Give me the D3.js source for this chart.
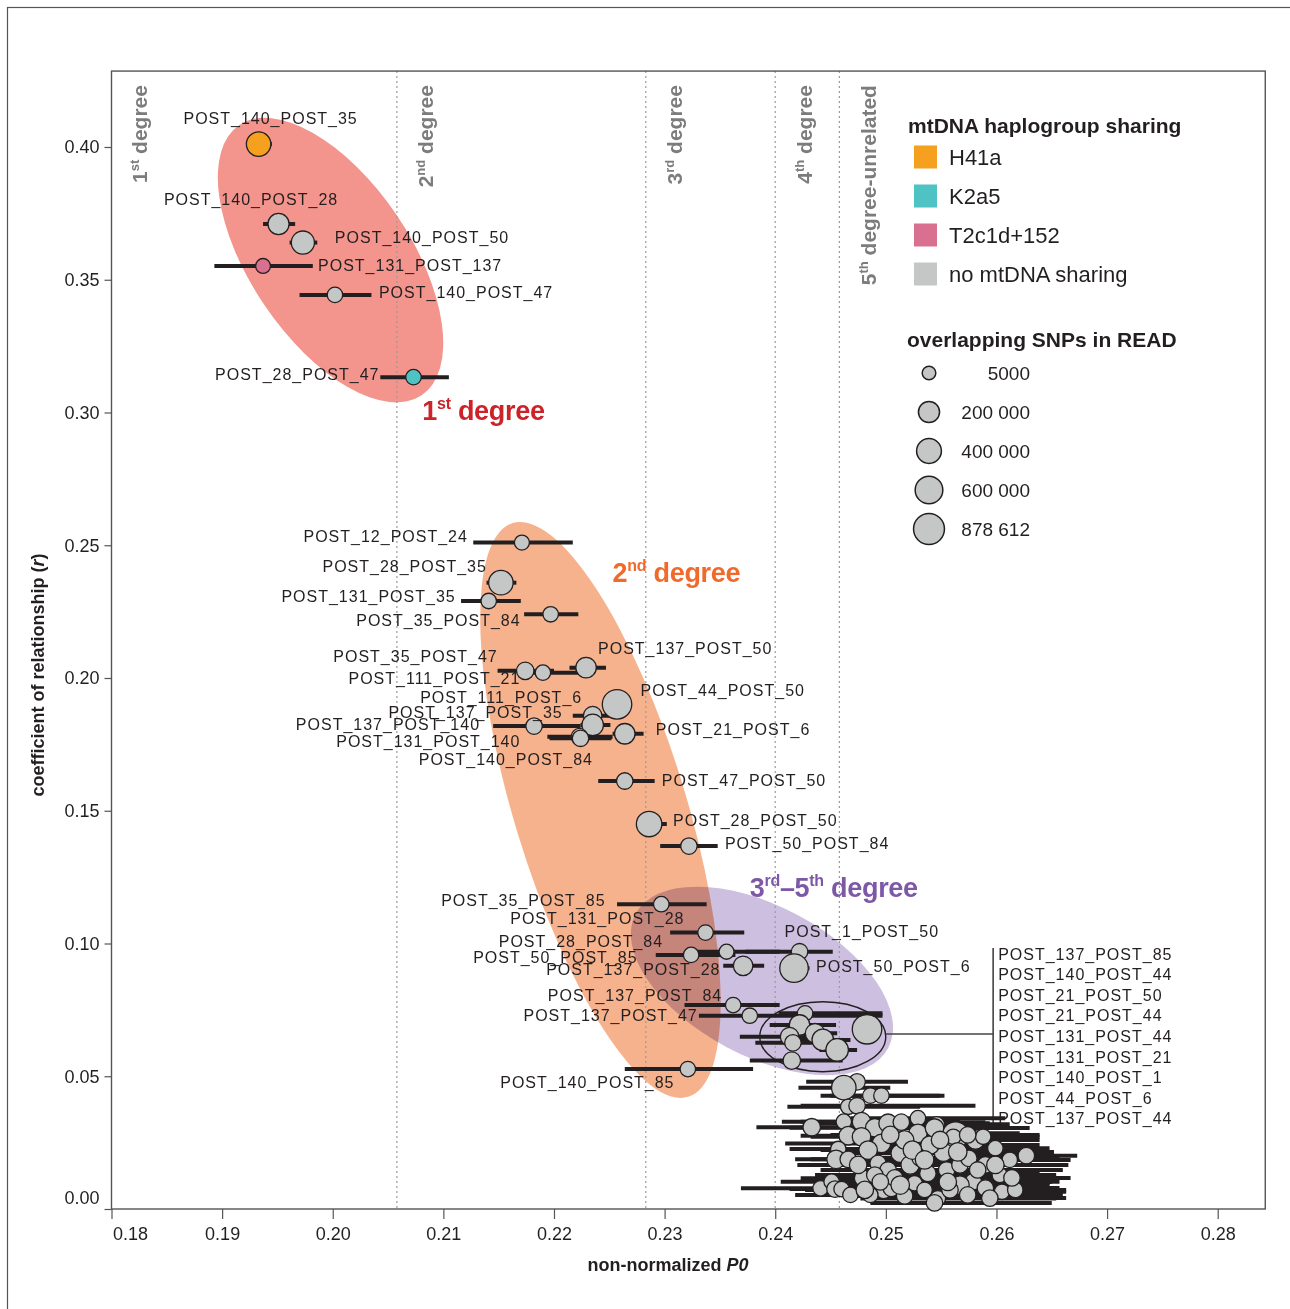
<!DOCTYPE html>
<html><head><meta charset="utf-8">
<script src="https://cdn.jsdelivr.net/npm/d3@7"></script>
<style>
body{margin:0;background:#fff}
svg{display:block;background:#fff}
text{font-family:"Liberation Sans",Arial,sans-serif}
</style>
</head><body>
<svg id="chart" width="1290" height="1309"></svg>
<script>
// ---------------- DATA ----------------
const haploGroups = ["H41a","K2a5","T2c1d+152","no mtDNA sharing"];
const haploColors = ["#f5a01f","#4fc3c4","#d9708f","#c4c7c5"];

// labelled pairs
const pairNames = ["POST_140_POST_35","POST_140_POST_28","POST_140_POST_50","POST_131_POST_137","POST_140_POST_47","POST_28_POST_47",
  "POST_12_POST_24","POST_28_POST_35","POST_131_POST_35","POST_35_POST_84","POST_35_POST_47","POST_111_POST_21",
  "POST_137_POST_50","POST_44_POST_50","POST_137_POST_35","POST_111_POST_6","POST_137_POST_140","POST_131_POST_140",
  "POST_140_POST_84","POST_21_POST_6","POST_47_POST_50","POST_28_POST_50","POST_50_POST_84","POST_35_POST_85",
  "POST_131_POST_28","POST_28_POST_84","POST_50_POST_85","POST_1_POST_50","POST_137_POST_28","POST_50_POST_6",
  "POST_137_POST_84","POST_137_POST_47","POST_140_POST_85"];
const pairP0 = [0.1933,0.1951,0.1973,0.1937,0.2002,0.2073,
  0.2171,0.2152,0.2141,0.2197,0.2174,0.2190,
  0.2229,0.2257,0.2235,0.2235,0.2182,0.2223,
  0.2224,0.2264,0.2264,0.2286,0.2322,0.2297,
  0.2337,0.2324,0.2356,0.2422,0.2371,0.2417,
  0.2362,0.2377,0.2321];
const pairR = [0.4011,0.3710,0.3640,0.3552,0.3443,0.3133,
  0.2510,0.2359,0.2290,0.2240,0.2027,0.2020,
  0.2039,0.1901,0.1858,0.1823,0.1819,0.1779,
  0.1773,0.1790,0.1612,0.1450,0.1367,0.1148,
  0.1041,0.0957,0.0969,0.0969,0.0916,0.0907,
  0.0768,0.0728,0.0527];
const pairP0Low = [0.1923,0.1937,0.1961,0.1893,0.1970,0.2043,
  0.2127,0.2139,0.2116,0.2173,0.2149,0.2169,
  0.2214,0.2250,0.2217,0.2224,0.2145,0.2194,
  0.2196,0.2253,0.2240,0.2276,0.2296,0.2257,
  0.2305,0.2292,0.2319,0.2373,0.2353,0.2407,
  0.2318,0.2331,0.2264];
const pairP0High = [0.1945,0.1966,0.1986,0.1982,0.2035,0.2105,
  0.2217,0.2166,0.2170,0.2222,0.2200,0.2230,
  0.2247,0.2264,0.2253,0.2251,0.2224,0.2253,
  0.2252,0.2281,0.2291,0.2302,0.2348,0.2338,
  0.2372,0.2364,0.2404,0.2452,0.2390,0.2431,
  0.2404,0.2497,0.2380];
const pairSNPs = [380000,200000,300000,18000,27000,27000,
  20000,380000,27000,27000,70000,27000,
  173000,752000,100000,220000,46000,46000,
  46000,173000,46000,444000,46000,27000,
  27000,27000,20000,46000,134000,668000,
  27000,27000,27000];
const pairHaplo = ["H41a","no mtDNA sharing","no mtDNA sharing","T2c1d+152","no mtDNA sharing","K2a5"];

// pairs grouped in the circled sub-cluster (listed in bracket)
const bracketNames = ["POST_137_POST_85","POST_140_POST_44","POST_21_POST_50","POST_21_POST_44","POST_131_POST_44",
  "POST_131_POST_21","POST_140_POST_1","POST_44_POST_6","POST_137_POST_44"];
const bracketP0 = [0.2427,0.2422,0.2436,0.2443,0.2456,0.2413,0.2416,0.2415,0.2483];
const bracketR = [0.0737,0.0693,0.0662,0.0637,0.0599,0.0649,0.0626,0.0559,0.0677];
const bracketP0Low = [0.2403,0.2395,0.2411,0.2422,0.2440,0.2368,0.2382,0.2377,0.2477];
const bracketP0High = [0.2497,0.2455,0.2456,0.2468,0.2474,0.2452,0.2463,0.2461,0.2490];
const bracketSNPs = [27000,173000,134000,220000,266000,100000,46000,70000,752000];

// unlabelled pairs (unrelated cluster)
const otherP0 = [0.2474,0.2462,0.2486,0.2496,0.2466,0.2474,0.2433,0.2462,0.2478,0.2490,
  0.2502,0.2514,0.2529,0.2546,0.2563,0.2561,0.2581,0.2588,0.2599,0.2627,
  0.2466,0.2478,0.2496,0.2484,0.2457,0.2455,0.2466,0.2513,0.2493,0.2502,
  0.2479,0.2490,0.2441,0.2451,0.2454,0.2460,0.2498,0.2505,0.2529,0.2522,
  0.2538,0.2555,0.2567,0.2579,0.2590,0.2605,0.2617,0.2547,0.2526,0.2552,
  0.2575,0.2517,0.2540,0.2531,0.2567,0.2558,0.2517,0.2590,0.2603,0.2486,
  0.2544,0.2612,0.2508,0.2535,0.2574,0.2468,
  0.2504,0.2524,0.2549,0.2565,0.2583,0.2599,0.2535,0.2556,0.2574,0.2594,
  0.2495,0.2475,0.2513,0.2614,0.2544,0.2481];
const otherR = [0.0479,0.0457,0.0427,0.0427,0.0385,0.0389,0.0308,0.0329,0.0329,0.0306,
  0.0323,0.0327,0.0342,0.0319,0.0279,0.0272,0.0260,0.0272,0.0229,0.0201,
  0.0276,0.0272,0.0247,0.0222,0.0226,0.0187,0.0187,0.0210,0.0172,0.0147,
  0.0116,0.0128,0.0078,0.0103,0.0075,0.0075,0.0068,0.0078,0.0285,0.0166,
  0.0134,0.0147,0.0166,0.0103,0.0166,0.0065,0.0072,0.0040,0.0097,0.0214,
  0.0191,0.0260,0.0241,0.0192,0.0090,0.0072,0.0049,0.0079,0.0128,0.0053,
  0.0305,0.0185,0.0117,0.0072,0.0279,0.0053,
  0.0279,0.0222,0.0260,0.0215,0.0147,0.0166,0.0185,0.0102,0.0053,0.0041,
  0.0102,0.0166,0.0090,0.0117,0.0023,0.0072];
const otherP0Low = [0.2428,0.2421,0.2441,0.2450,0.2411,0.2423,0.2383,0.2406,0.2423,0.2413,
  0.2427,0.2441,0.2468,0.2477,0.2513,0.2504,0.2540,0.2531,0.2549,0.2576,
  0.2423,0.2432,0.2409,0.2441,0.2413,0.2418,0.2432,0.2458,0.2450,0.2441,
  0.2423,0.2436,0.2369,0.2405,0.2413,0.2423,0.2477,0.2458,0.2477,0.2468,
  0.2486,0.2495,0.2504,0.2517,0.2531,0.2549,0.2558,0.2477,0.2468,0.2495,
  0.2513,0.2463,0.2486,0.2472,0.2513,0.2504,0.2468,0.2540,0.2549,0.2423,
  0.2490,0.2563,0.2463,0.2477,0.2531,0.2418,
  0.2450,0.2468,0.2495,0.2509,0.2531,0.2545,0.2477,0.2495,0.2513,0.2540,
  0.2436,0.2420,0.2458,0.2565,0.2486,0.2427];
const otherP0High = [0.2520,0.2504,0.2553,0.2549,0.2531,0.2581,0.2477,0.2540,0.2567,0.2585,
  0.2594,0.2590,0.2608,0.2612,0.2603,0.2621,0.2630,0.2639,0.2648,0.2673,
  0.2549,0.2567,0.2576,0.2594,0.2513,0.2531,0.2558,0.2603,0.2612,0.2621,
  0.2585,0.2594,0.2513,0.2531,0.2540,0.2567,0.2612,0.2630,0.2621,0.2635,
  0.2639,0.2648,0.2644,0.2657,0.2657,0.2663,0.2663,0.2654,0.2648,0.2644,
  0.2657,0.2626,0.2639,0.2630,0.2648,0.2648,0.2644,0.2657,0.2654,0.2603,
  0.2630,0.2667,0.2639,0.2648,0.2639,0.2594,
  0.2600,0.2621,0.2639,0.2652,0.2660,0.2665,0.2630,0.2650,0.2660,0.2663,
  0.2594,0.2576,0.2612,0.2667,0.2650,0.2585];
const otherSNPs = [46000,380000,27000,27000,27000,46000,70000,27000,100000,100000,
  100000,46000,27000,27000,500000,27000,100000,27000,27000,46000,
  100000,100000,100000,100000,27000,100000,46000,100000,46000,46000,
  46000,46000,27000,27000,46000,27000,27000,46000,100000,100000,
  46000,46000,46000,46000,46000,27000,27000,27000,27000,100000,
  46000,100000,100000,46000,100000,46000,46000,46000,27000,27000,
  100000,27000,46000,27000,46000,27000,
  70000,100000,70000,100000,46000,70000,100000,70000,46000,46000,
  46000,70000,100000,46000,46000,70000];

// degree thresholds on non-normalized P0
const degreeBoundaries = [0.2058,0.2283,0.2400,0.2458];
const degreeNames = [["1","st"," degree"],["2","nd"," degree"],["3","rd"," degree"],["4","th"," degree"],["5","th"," degree-unrelated"]];
const sizeLegendValues = [5000,200000,400000,600000,878612];
const sizeLegendLabels = ["5000","200 000","400 000","600 000","878 612"];
const xTickValues = [0.18,0.19,0.20,0.21,0.22,0.23,0.24,0.25,0.26,0.27,0.28];
const yTickValues = [0,0.05,0.10,0.15,0.20,0.25,0.30,0.35,0.40];

// ---------------- LAYOUT (pixels) ----------------
const labelPlacement = {
  "POST_140_POST_35":[12,-26,"middle"],"POST_140_POST_28":[-27.5,-25,"middle"],"POST_140_POST_50":[32,-5,"start"],
  "POST_131_POST_137":[55,-1,"start"],"POST_140_POST_47":[44,-2,"start"],"POST_28_POST_47":[-34,-3,"end"],
  "POST_12_POST_24":[-54,-6,"end"],"POST_28_POST_35":[-14,-16,"end"],"POST_131_POST_35":[-33,-5,"end"],
  "POST_35_POST_84":[-30,6,"end"],"POST_35_POST_47":[-27.5,-14,"end"],"POST_111_POST_21":[-22.5,6,"end"],
  "POST_137_POST_50":[12,-19,"start"],"POST_44_POST_50":[23.5,-14,"start"],"POST_137_POST_35":[-30,-3,"end"],
  "POST_111_POST_6":[-10.5,-28,"end"],"POST_137_POST_140":[-54,-2,"end"],"POST_131_POST_140":[-59,5,"end"],
  "POST_140_POST_84":[12.5,21,"end"],"POST_21_POST_6":[31,-4,"start"],"POST_47_POST_50":[37,-1,"start"],
  "POST_28_POST_50":[24,-4,"start"],"POST_50_POST_84":[36,-3,"start"],"POST_35_POST_85":[-55.7,-4,"end"],
  "POST_131_POST_28":[-21,-14,"end"],"POST_28_POST_84":[-28,-14,"end"],"POST_50_POST_85":[-89,6,"end"],
  "POST_1_POST_50":[-15,-20,"start"],"POST_137_POST_28":[-22.7,4,"end"],"POST_50_POST_6":[22,-2,"start"],
  "POST_137_POST_84":[-11,-10,"end"],"POST_137_POST_47":[-52,0,"end"],"POST_140_POST_85":[-13.3,13,"end"]
};

// ---------------- CHART ----------------
const svg = d3.select("#chart");
const W = 1290, H = 1309;
const x = d3.scaleLinear().domain([0.18,0.28]).range([111.5,1217.7]);
const y = d3.scaleLinear().domain([0,0.40]).range([1209,147]);
const rScale = d3.scaleSqrt().domain([0,878612]).range([6.1,15.45]);
const color = d3.scaleOrdinal().domain(haploGroups).range(haploColors);
const plotL = x(0.18), plotR = x(0.2843), plotT = y(0.4286), plotB = y(0);
const ink = "#231f20";

// outer frame
svg.append("rect").attr("x",7.5).attr("y",7.5).attr("width",W).attr("height",H)
  .attr("fill","none").attr("stroke","#555").attr("stroke-width",1.2);

// degree zone shading
const zones = [
  {p0:0.1998, r:0.3574, a:163, b:80, rot:56, fill:"#f3948d", blend:"normal"},
  {p0:0.2242, r:0.1503, a:300, b:86, rot:73, fill:"#f6b28c", blend:"normal"},
  {p0:0.2388, r:0.0859, a:143, b:75, rot:28, fill:"#cdbfe0", blend:"multiply"}
];
svg.append("g").selectAll("ellipse").data(zones).join("ellipse")
  .attr("transform",d=>`translate(${x(d.p0)},${y(d.r)}) rotate(${d.rot})`)
  .attr("rx",d=>d.a).attr("ry",d=>d.b).attr("fill",d=>d.fill)
  .style("mix-blend-mode",d=>d.blend);

// dotted degree boundaries
svg.append("g").selectAll("line").data(degreeBoundaries).join("line")
  .attr("x1",d=>x(d)).attr("x2",d=>x(d)).attr("y1",plotT).attr("y2",plotB)
  .attr("stroke","#9a9a9a").attr("stroke-width",1.2).attr("stroke-dasharray","2,3");

// degree names (rotated)
const degX = [0.1832].concat(degreeBoundaries);
degreeNames.forEach((parts,i)=>{
  const px = i===0 ? x(degX[0]) : x(degX[i]) + 36.5;
  const t = svg.append("text").attr("transform",`translate(${px},${plotT+14}) rotate(-90)`)
    .attr("text-anchor","end").attr("font-size",21).attr("font-weight","bold").attr("fill","#7c7c7c");
  t.append("tspan").text(parts[0]);
  t.append("tspan").attr("font-size",13).attr("dy",-8).text(parts[1]);
  t.append("tspan").attr("dy",8).text(parts[2]);
});

// plot frame
svg.append("rect").attr("x",plotL).attr("y",plotT).attr("width",plotR-plotL).attr("height",plotB-plotT)
  .attr("fill","none").attr("stroke","#555").attr("stroke-width",1.4);

// circled sub-cluster and bracket
const subCenter = {p0:0.2443, r:0.0649};
svg.append("ellipse").attr("cx",x(subCenter.p0)).attr("cy",y(subCenter.r)).attr("rx",63).attr("ry",35)
  .attr("fill","none").attr("stroke",ink).attr("stroke-width",1.4);
const bracketX = x(0.2597);
svg.append("line").attr("x1",x(subCenter.p0)+63).attr("x2",bracketX).attr("y1",y(0.0659)).attr("y2",y(0.0659))
  .attr("stroke","#444").attr("stroke-width",1.4);
svg.append("line").attr("x1",bracketX).attr("x2",bracketX).attr("y1",y(0.0983)).attr("y2",y(0.0316))
  .attr("stroke","#444").attr("stroke-width",1.6);
svg.append("g").selectAll("text").data(bracketNames).join("text")
  .attr("x",bracketX+5).attr("y",(d,i)=>954+i*20.6).attr("dy","0.35em")
  .attr("font-size",16).attr("letter-spacing",1).attr("fill",ink).text(d=>d);

// assemble points
const points = [];
pairNames.forEach((n,i)=>points.push({name:n,p0:pairP0[i],r:pairR[i],lo:pairP0Low[i],hi:pairP0High[i],snp:pairSNPs[i],hap:pairHaplo[i]||"no mtDNA sharing",label:true}));
bracketNames.forEach((n,i)=>points.push({name:n,p0:bracketP0[i],r:bracketR[i],lo:bracketP0Low[i],hi:bracketP0High[i],snp:bracketSNPs[i],hap:"no mtDNA sharing",label:false}));
otherP0.forEach((v,i)=>points.push({name:"",p0:v,r:otherR[i],lo:otherP0Low[i],hi:otherP0High[i],snp:otherSNPs[i],hap:"no mtDNA sharing",label:false}));

// error bars
svg.append("g").selectAll("line").data(points).join("line")
  .attr("x1",d=>x(d.lo)).attr("x2",d=>x(d.hi)).attr("y1",d=>y(d.r)).attr("y2",d=>y(d.r))
  .attr("stroke",ink).attr("stroke-width",4);
// circles
svg.append("g").selectAll("circle").data(points).join("circle")
  .attr("cx",d=>x(d.p0)).attr("cy",d=>y(d.r)).attr("r",d=>rScale(d.snp))
  .attr("fill",d=>color(d.hap)).attr("stroke",ink).attr("stroke-width",1.3);
// labels
svg.append("g").selectAll("text").data(points.filter(d=>d.label)).join("text")
  .attr("x",d=>x(d.p0)+labelPlacement[d.name][0]).attr("y",d=>y(d.r)+labelPlacement[d.name][1])
  .attr("dy","0.35em").attr("text-anchor",d=>labelPlacement[d.name][2])
  .attr("font-size",16).attr("letter-spacing",1).attr("fill",ink).text(d=>d.name);

// category titles
const cats = [
  {p0:0.2081, r:0.2972, parts:["1","st"," degree"], fill:"#cc2229"},
  {p0:0.2253, r:0.2362, parts:["2","nd"," degree"], fill:"#f26a2b"},
  {p0:0.2377, r:0.1175, parts:["3","rd","–5","th"," degree"], fill:"#7d58a6"}
];
cats.forEach(c=>{
  const t = svg.append("text").attr("x",x(c.p0)).attr("y",y(c.r)).attr("font-size",27)
    .attr("font-weight","bold").attr("fill",c.fill).attr("letter-spacing",-0.3);
  c.parts.forEach((p,i)=>{
    const ts = t.append("tspan").text(p);
    if (i%2===1){ ts.attr("font-size",16).attr("dy",-11); }
    else if (i>0){ ts.attr("dy",11); }
  });
});

// axes
const xAxis = svg.append("g").attr("transform",`translate(0,${plotB})`)
  .call(d3.axisBottom(x).tickValues(xTickValues).tickSize(10).tickSizeOuter(0).tickPadding(8).tickFormat(d3.format(".2f")));
const yAxis = svg.append("g").attr("transform",`translate(${plotL},0)`)
  .call(d3.axisLeft(y).tickValues(yTickValues).tickSize(7).tickSizeOuter(0).tickPadding(5).tickFormat(d3.format(".2f")));
[xAxis,yAxis].forEach(a=>{
  a.select(".domain").remove();
  a.selectAll(".tick line").attr("stroke","#555").attr("stroke-width",1.2);
  a.selectAll(".tick text").attr("font-size",18).attr("fill",ink).attr("font-family","Liberation Sans, Arial, sans-serif");
});
xAxis.selectAll(".tick text").filter(d=>d===0.18).attr("text-anchor","start").attr("x",1);
yAxis.selectAll(".tick text").filter(d=>d===0).attr("y",-11);

// axis titles
const yt = svg.append("text").attr("transform",`translate(44,${(plotT+plotB)/2+35}) rotate(-90)`)
  .attr("text-anchor","middle").attr("font-size",18).attr("font-weight","bold").attr("fill",ink);
yt.append("tspan").text("coefficient of relationship (");
yt.append("tspan").attr("font-style","italic").text("r");
yt.append("tspan").text(")");
const xt = svg.append("text").attr("x",668).attr("y",1271).attr("text-anchor","middle")
  .attr("font-size",18).attr("font-weight","bold").attr("fill",ink);
xt.append("tspan").text("non-normalized ");
xt.append("tspan").attr("font-style","italic").text("P0");

// legend: haplogroups
const lg = svg.append("g");
lg.append("text").attr("x",908).attr("y",133).attr("font-size",21).attr("font-weight","bold").attr("fill",ink)
  .text("mtDNA haplogroup sharing");
const li = lg.selectAll("g.item").data(haploGroups).join("g").attr("class","item")
  .attr("transform",(d,i)=>`translate(0,${157+i*39})`);
li.append("rect").attr("x",914).attr("y",-11.5).attr("width",23).attr("height",23).attr("fill",d=>color(d));
li.append("text").attr("x",949).attr("dy","0.35em").attr("font-size",22).attr("fill",ink).text(d=>d);

// legend: sizes
lg.append("text").attr("x",907).attr("y",347).attr("font-size",21).attr("font-weight","bold").attr("fill",ink)
  .text("overlapping SNPs in READ");
const si = lg.selectAll("g.size").data(sizeLegendValues).join("g").attr("class","size")
  .attr("transform",(d,i)=>`translate(0,${373+i*39})`);
si.append("circle").attr("cx",929).attr("r",d=>rScale(d)).attr("fill","#c4c7c5").attr("stroke",ink).attr("stroke-width",1.5);
si.append("text").attr("x",1030).attr("dy","0.35em").attr("text-anchor","end").attr("font-size",19).attr("fill",ink)
  .text((d,i)=>sizeLegendLabels[i]);
</script>
</body></html>
